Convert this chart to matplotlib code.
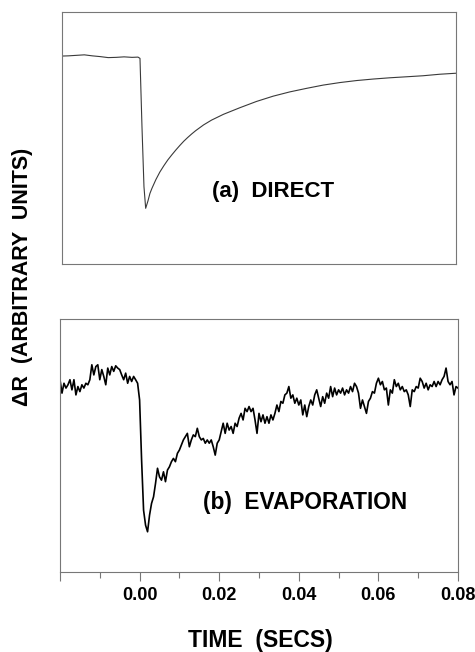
import numpy as np
import matplotlib
matplotlib.use("Agg")
import matplotlib.pyplot as plt
from matplotlib.ticker import FixedLocator, FixedFormatter

# ---------------- data (time in ms, signal in arbitrary units) ----------------
direct_t_ms = [-20, -18, -16, -14, -12, -10, -8, -6, -4, -2, -0.5, 0.0, 0.5, 1.0,
               1.43, 2.0, 2.5, 3.0, 4.0, 5.0, 6.0, 7.0, 8.0, 9.0, 10.0, 11.0, 12.0,
               13.0, 14.0, 16.0, 18.0, 21.0, 25.1, 29.3, 33.5, 37.7, 41.9, 46.1,
               50.3, 54.5, 58.7, 62.9, 67.1, 71.2, 75.4, 79.5]
direct_v = [82.5, 82.6, 82.8, 83.0, 82.6, 82.3, 81.9, 82.0, 82.2, 82.0, 82.1, 81.6,
            54.5, 30.7, 22.1, 25.0, 28.0, 30.0, 33.5, 36.5, 39.0, 41.3, 43.3, 45.2,
            47.0, 48.7, 50.2, 51.6, 52.9, 55.2, 57.1, 59.4, 62.0, 64.5, 66.6, 68.3,
            69.7, 71.0, 72.0, 72.8, 73.4, 73.9, 74.3, 74.7, 75.3, 75.7]

evap_t_ms = [x * 0.5 for x in range(-40, 161)]  # sample times, 0.5 ms apart
evap_v = [76.0, 70.7, 74.6, 72.7, 74.0, 76.0, 72.0, 76.0, 70.0, 73.3,
          71.3, 74.0, 72.7, 74.6, 74.0, 76.0, 81.9, 77.9, 81.2, 81.9,
          76.0, 80.0, 77.3, 74.0, 80.6, 77.9, 81.2, 79.3, 81.5, 80.6,
          80.0, 77.9, 76.0, 78.6, 74.6, 77.3, 75.3, 77.3, 76.0, 74.6,
          68.0, 44.3, 24.4, 18.5, 15.9, 22.5, 27.1, 29.7, 35.0, 41.0,
          37.6, 36.3, 39.6, 35.7, 40.3, 41.6, 43.6, 44.9, 43.6, 46.9,
          48.2, 50.2, 52.2, 53.5, 54.8, 49.5, 52.2, 54.2, 53.5, 56.8,
          53.5, 52.2, 52.8, 50.9, 52.2, 50.9, 52.2, 49.5, 46.2, 50.9,
          52.2, 55.5, 58.8, 54.8, 58.8, 56.1, 57.5, 54.8, 58.8, 57.5,
          60.8, 62.7, 60.1, 64.7, 63.4, 65.4, 63.4, 64.7, 60.1, 54.8,
          62.7, 59.4, 62.1, 58.8, 61.4, 58.8, 62.1, 60.1, 62.7, 66.0,
          63.4, 67.4, 66.7, 70.0, 70.7, 73.3, 68.7, 70.0, 66.7, 68.7,
          66.0, 68.0, 62.1, 66.0, 61.4, 65.4, 68.0, 66.0, 70.0, 72.0,
          68.7, 65.4, 69.3, 66.7, 70.7, 68.7, 73.3, 69.3, 72.7, 70.0,
          72.0, 70.7, 72.7, 70.0, 72.0, 70.7, 73.3, 71.3, 74.6, 73.3,
          70.7, 64.7, 68.0, 65.4, 62.7, 67.4, 68.7, 71.3, 70.7, 74.6,
          76.6, 74.0, 75.3, 72.0, 72.7, 66.0, 72.0, 70.7, 76.0, 73.3,
          74.6, 72.0, 73.3, 71.3, 72.0, 70.0, 65.4, 72.0, 71.3, 73.3,
          72.7, 76.6, 75.3, 72.7, 74.6, 72.0, 74.0, 73.3, 75.3, 73.3,
          75.3, 74.0, 76.0, 77.3, 80.6, 75.3, 74.0, 75.3, 70.0, 73.3,
          72.7]

major_ticks = [-0.02, 0.00, 0.02, 0.04, 0.06, 0.08]
major_labels = ["", "0.00", "0.02", "0.04", "0.06", "0.08"]
minor_ticks = [-0.01, 0.01, 0.03, 0.05, 0.07]

panel_a_label = "(a)  DIRECT"
panel_b_label = "(b)  EVAPORATION"
x_label = "TIME  (SECS)"
y_label = "\u0394R  (ARBITRARY  UNITS)"

# ---------------- figure ----------------
W, H = 475, 652
fig = plt.figure(figsize=(W / 100, H / 100), dpi=100)
FONT = "Liberation Sans"

def px_axes(left, top, right, bottom):
    return fig.add_axes([left / W, (H - bottom) / H, (right - left) / W, (bottom - top) / H])

frame_col = "#777777"

ax1 = px_axes(62, 12, 456, 264)
ax1.plot(np.array(direct_t_ms) / 1000.0, direct_v, color="#3a3a3a", lw=0.8)
ax1.set_xlim(-0.01962, 0.0795)
ax1.set_ylim(0, 100)
ax1.set_xticks([])
ax1.set_yticks([])
for s in ax1.spines.values():
    s.set_color(frame_col)
    s.set_linewidth(0.8)
ax1.text(0.0335, 28.6, panel_a_label, ha="center", va="center",
         fontsize=16, fontweight="bold", family=FONT)

ax2 = px_axes(60, 319, 458, 572)
ax2.plot(np.array(evap_t_ms) / 1000.0, evap_v, color="black", lw=1.2)
ax2.set_xlim(-0.02, 0.08)
ax2.set_ylim(0, 100)
ax2.set_yticks([])
ax2.xaxis.set_major_locator(FixedLocator(major_ticks))
ax2.xaxis.set_major_formatter(FixedFormatter(major_labels))
ax2.xaxis.set_minor_locator(FixedLocator(minor_ticks))
ax2.tick_params(axis="x", which="major", direction="out", length=6.5, width=0.8,
                color=frame_col, pad=4.5, labelsize=13)
ax2.tick_params(axis="x", which="minor", direction="out", length=4.3, width=0.8,
                color=frame_col)
for lab in ax2.get_xticklabels():
    lab.set_fontweight("bold")
    lab.set_family(FONT)
for s in ax2.spines.values():
    s.set_color(frame_col)
    s.set_linewidth(0.8)
ax2.text(0.0415, 27.3, panel_b_label, ha="center", va="center",
         fontsize=16.3, fontweight="bold", family=FONT)

fig.text(260 / W, 1 - 640 / H, x_label, ha="center", va="center",
         fontsize=16.5, fontweight="bold", family=FONT)
fig.text(23 / W, 1 - 277 / H, y_label, ha="center", va="center", rotation=90,
         fontsize=15.5, fontweight="bold", family=FONT)

fig.savefig("out.png", dpi=100)
